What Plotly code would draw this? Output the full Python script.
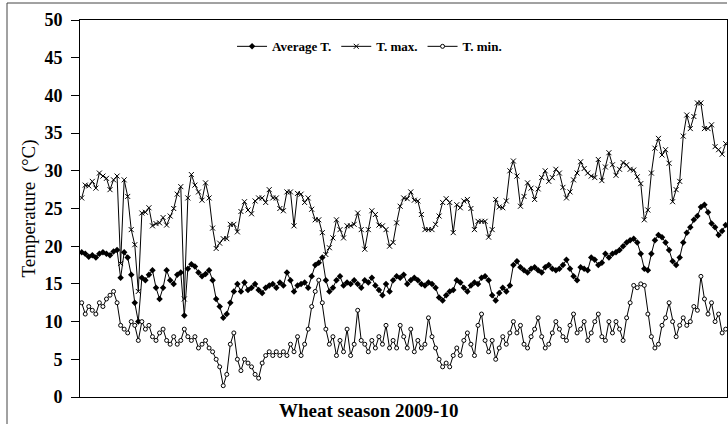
import plotly.graph_objects as go

# Daily air temperature (°C) over the wheat season 2009-10
t_max = [
    26.4, 28.1, 28.0, 28.6, 27.7, 29.7, 29.3, 29.0, 27.5, 28.8,
    29.3, 17.7, 28.8, 26.6, 22.2, 20.2, 14.0, 24.4, 24.5, 25.1,
    22.7, 23.0, 23.1, 23.8, 22.8, 24.0, 25.0, 26.9, 27.9, 13.0,
    26.4, 29.5, 28.1, 27.2, 26.1, 28.4, 26.4, 22.4, 19.7, 20.4,
    21.0, 21.0, 22.9, 22.9, 21.9, 24.6, 25.9, 24.8, 24.3, 26.0,
    26.4, 26.4, 25.8, 27.5, 26.4, 26.4, 25.0, 24.7, 27.2, 27.2,
    22.7, 27.0, 26.9, 25.8, 26.4, 24.9, 23.5, 23.5, 21.8, 18.9,
    19.8, 21.1, 23.5, 22.2, 21.1, 22.7, 22.7, 22.9, 24.4, 22.2,
    19.6, 22.2, 24.7, 24.2, 22.8, 22.7, 22.2, 20.0, 20.5, 23.1,
    25.3, 26.4, 26.3, 27.2, 26.1, 26.0, 24.2, 22.2, 22.2, 22.2,
    22.9, 24.0, 25.8, 26.3, 25.8, 21.8, 25.5, 25.1, 26.0, 26.2,
    25.0, 22.2, 23.3, 23.3, 23.3, 21.2, 22.2, 26.2, 25.2, 25.1,
    26.0, 30.0, 31.3, 29.3, 25.3, 26.6, 28.4, 27.7, 26.2, 27.6,
    29.1, 30.0, 28.6, 29.1, 30.2, 29.7, 27.8, 26.4, 27.2, 28.8,
    29.7, 31.2, 30.3, 29.7, 29.3, 29.1, 31.5, 28.7, 30.5, 32.4,
    30.8, 29.4, 30.2, 31.1, 30.8, 30.2, 30.1, 29.2, 28.3, 23.5,
    24.8, 29.7, 33.0, 34.3, 32.1, 32.8, 31.0, 25.9, 27.5, 28.6,
    34.6, 37.4, 35.6, 37.2, 39.0, 39.0, 35.6, 35.6, 36.1, 33.2,
    32.8, 32.2, 33.6,
]

t_avg = [
    19.2, 19.0, 18.6, 18.8, 18.5, 19.0, 19.2, 19.0, 18.8, 19.3,
    19.5, 15.8, 19.2, 18.5, 16.2, 12.5, 10.0, 15.8, 15.5, 16.2,
    16.8, 14.5, 13.0, 14.5, 16.8, 15.5, 15.0, 16.2, 16.5, 10.8,
    17.0, 17.6, 17.3, 16.5, 16.0, 16.3, 16.8, 15.5, 13.0, 12.0,
    10.5, 11.0, 12.5, 14.0, 15.0, 14.0, 15.2, 14.2, 14.5, 15.0,
    14.2, 13.8, 14.5, 14.8, 15.0, 14.5, 15.2, 14.8, 16.5, 15.5,
    14.0, 14.8, 15.0, 15.2, 14.5, 16.0, 17.5, 17.8, 18.5, 15.5,
    14.0, 14.5, 15.5, 16.0, 14.8, 15.2, 15.0, 15.5, 15.0, 14.5,
    15.5, 15.2, 15.8, 14.8, 14.2, 13.5, 15.0, 14.0, 15.5, 16.0,
    15.8, 16.2, 15.0, 15.5, 15.8, 15.5, 15.0, 14.8, 15.2, 15.0,
    14.5, 13.2, 12.8, 13.5, 14.0, 14.2, 15.5, 15.2, 14.5, 14.0,
    14.8, 15.2, 15.0, 15.8, 16.0, 15.5, 13.5, 12.8, 13.8, 14.5,
    14.0, 14.8, 17.5, 18.0, 17.2, 16.8, 16.5, 17.0, 17.2, 16.8,
    16.5, 17.2, 17.5, 17.0, 16.8, 17.0, 17.5, 18.2, 17.0, 16.0,
    15.5, 17.2, 17.0, 16.8, 18.5, 18.2, 17.5, 17.8, 19.0, 18.5,
    19.0, 19.2, 19.5, 20.0, 20.5, 20.8, 21.0, 20.5, 19.0, 17.0,
    16.8, 19.0, 20.8, 21.5, 21.2, 20.5, 19.5, 18.0, 17.5, 18.5,
    20.5, 21.8, 22.5, 23.5, 24.0, 25.2, 25.5, 24.5, 23.0, 22.5,
    21.5, 22.0, 22.8,
]

t_min = [
    12.5, 11.0, 12.0, 11.5, 11.0, 12.5, 12.0, 13.0, 13.5, 14.0,
    12.5, 9.5, 9.0, 8.5, 10.0, 9.5, 7.5, 10.0, 9.0, 9.5,
    8.0, 7.5, 8.5, 9.0, 7.5, 7.0, 8.0, 7.0, 7.5, 9.0,
    8.0, 7.5, 8.0, 6.5, 7.0, 7.5, 6.5, 6.0, 5.0, 4.0,
    1.5, 3.0, 7.0, 8.5, 5.0, 3.5, 5.0, 4.5, 4.0, 3.0,
    2.5, 4.5, 5.5, 6.0, 5.5, 6.0, 5.5, 6.0, 5.5, 7.0,
    6.0, 8.0, 5.5, 7.0, 9.0, 12.0, 14.0, 15.5, 12.5, 9.0,
    7.0, 8.0, 5.5, 7.5, 6.0, 9.0, 5.5, 7.0, 11.5, 7.5,
    7.0, 6.0, 7.5, 6.5, 8.0, 7.0, 9.5, 6.5, 7.5, 6.5,
    9.5, 8.0, 6.5, 9.0, 6.0, 7.5, 6.5, 7.0, 10.5, 8.0,
    6.5, 5.0, 4.0, 4.5, 4.0, 5.5, 6.5, 5.5, 7.5, 8.5,
    7.0, 5.5, 9.5, 11.0, 7.5, 6.0, 7.5, 5.0, 6.5, 8.0,
    7.0, 8.5, 10.0, 8.5, 9.5, 7.0, 6.5, 8.0, 9.0, 10.5,
    8.0, 6.5, 7.0, 8.5, 10.0, 9.0, 8.0, 7.5, 9.5, 11.0,
    8.5, 9.0, 10.0, 7.5, 8.5, 10.0, 11.0, 8.0, 7.5, 10.0,
    8.5, 10.0, 9.0, 7.5, 10.5, 12.5, 14.8, 14.5, 15.0, 14.8,
    11.0, 8.0, 6.5, 7.0, 9.5, 10.5, 12.5, 10.0, 8.0, 9.5,
    10.5, 9.5, 10.0, 12.0, 11.5, 16.0, 13.0, 11.0, 12.5, 10.0,
    11.0, 8.5, 9.0,
]

days = list(range(len(t_max)))
y_ticks = [0, 5, 10, 15, 20, 25, 30, 35, 40, 45, 50]

SERIF = "Liberation Serif, Times New Roman, serif"
INK = "#000000"

# plot area in pixels: x 80..727, y 20..397 on a 728x424 canvas
PL, PR, PT, PB = 80, 727, 20, 397
PW, PH = PR - PL, PB - PT


def px_x(px):
    return (px - PL) / PW


def px_y(py):
    return (PB - py) / PH


fig = go.Figure()
fig.add_trace(go.Scatter(
    x=days, y=t_avg, name="Average T.", mode="lines+markers",
    line=dict(color=INK, width=1),
    marker=dict(symbol="diamond", size=5, color=INK),
))
fig.add_trace(go.Scatter(
    x=days, y=t_max, name="T. max.", mode="lines+markers",
    line=dict(color=INK, width=1),
    marker=dict(symbol="x-thin-open", size=5, color=INK, line=dict(color=INK, width=1)),
))
fig.add_trace(go.Scatter(
    x=days, y=t_min, name="T. min.", mode="lines+markers",
    line=dict(color=INK, width=1),
    marker=dict(symbol="circle", size=4, color="white", line=dict(color=INK, width=1)),
))

# outer chart border (left and top edges)
fig.add_shape(type="line", xref="paper", yref="paper",
              x0=px_x(7), x1=px_x(7), y0=px_y(424), y1=px_y(3),
              line=dict(color="#444", width=1))
fig.add_shape(type="line", xref="paper", yref="paper",
              x0=px_x(7), x1=1, y0=px_y(3), y1=px_y(3),
              line=dict(color="#444", width=1))

# x-axis title
fig.add_annotation(
    text="Wheat season 2009-10", xref="paper", yref="paper",
    x=px_x(368), y=px_y(410), xanchor="center", yanchor="middle",
    showarrow=False, font=dict(family=SERIF, size=19, weight="bold", color=INK),
)

fig.update_layout(
    width=728, height=424,
    margin=dict(l=PL, r=728 - PR, t=PT, b=424 - PB),
    paper_bgcolor="white", plot_bgcolor="white",
    font=dict(family=SERIF, color=INK),
    showlegend=True,
    legend=dict(
        orientation="h", x=0.235, y=0.93, xanchor="left", yanchor="middle",
        font=dict(family=SERIF, size=13, weight="bold", color=INK),
        bgcolor="rgba(0,0,0,0)", itemwidth=30, tracegroupgap=0,
    ),
    xaxis=dict(
        range=[-0.48, len(t_max) - 1 + 0.37],
        showticklabels=False, ticks="", showgrid=False, zeroline=False,
        showline=True, linecolor=INK, linewidth=1, mirror=True,
    ),
    yaxis=dict(
        range=[0, 50], tickvals=y_ticks, ticktext=[str(v) for v in y_ticks],
        ticks="outside", ticklen=8, tickcolor=INK, tickwidth=1,
        ticklabelstandoff=5,
        showgrid=False, zeroline=False,
        showline=True, linecolor=INK, linewidth=1, mirror=True,
        tickfont=dict(family=SERIF, size=18, weight="bold", color=INK),
        title=dict(text="Temperature  (°C)", standoff=3,
                   font=dict(family=SERIF, size=19, color=INK)),
    ),
)

fig.write_html("out.html")
